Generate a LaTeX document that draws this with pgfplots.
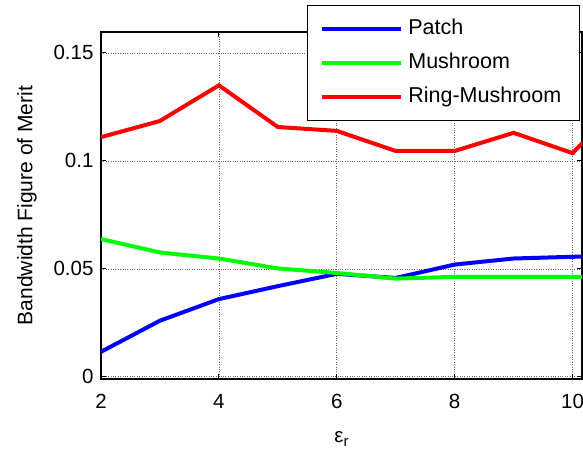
\documentclass[border=0pt]{standalone}
\usepackage{fontspec}
\setmainfont{Liberation Sans}
\usepackage{pgfplots}
\pgfplotsset{compat=1.18}

\definecolor{mblue}{RGB}{0,0,255}
\definecolor{mgreen}{RGB}{0,255,0}
\definecolor{mred}{RGB}{255,0,0}

\begin{document}
\begin{tikzpicture}
\begin{axis}[
  scale only axis,
  width=481bp, height=347bp,
  xmin=2, xmax=10.16,
  ymin=-0.001, ymax=0.1597,
  xtick={2,4,6,8,10}, xticklabels={2,4,6,8,10},
  ytick={0,0.05,0.1,0.15}, yticklabels={0,0.05,0.1,0.15},
  tick align=inside,
  major tick length=5bp,
  tick style={black, line width=1bp},
  axis line style={black, line width=1.3bp},
  grid=major,
  major grid style={dotted, black!60, line width=0.7bp},
  ticklabel style={font=\fontsize{20.5bp}{24bp}\selectfont},
  xticklabel style={yshift=-12bp},
  yticklabel style={xshift=-4bp},
  xlabel={ε\raisebox{-4bp}{\fontsize{15bp}{16bp}\selectfont r}},
  xlabel style={font=\fontsize{20.5bp}{24bp}\selectfont, yshift=-16bp},
  ylabel={Bandwidth Figure of Merit},
  ylabel style={font=\fontsize{21bp}{24bp}\selectfont, yshift=10bp},
  legend cell align=left,
  legend image code/.code={\draw[#1, line width=4bp] (0bp,0bp) -- (79bp,0bp);},
  legend style={
    at={(0.428,1.078)}, anchor=north west,
    draw=black, line width=1bp, fill=white,
    inner xsep=13bp, inner ysep=6bp,
    font=\fontsize{21.5bp}{26bp}\selectfont,
    row sep=0bp,
    nodes={inner xsep=5bp, inner ysep=6.7bp, text height=16bp, text depth=5bp},
  },
  every axis plot/.append style={line width=4bp},
]
\addplot[mblue] coordinates {
  (2,0.0116) (3,0.0260) (4,0.0360) (5,0.0420) (6,0.0477)
  (7,0.0458) (8,0.0520) (9,0.0548) (10,0.0556) (11,0.0560)
};
\addlegendentry{Patch}
\addplot[mgreen] coordinates {
  (2,0.0638) (3,0.0576) (4,0.0548) (5,0.0502) (6,0.0481)
  (7,0.0455) (8,0.0463) (9,0.0463) (10,0.0463) (11,0.0463)
};
\addlegendentry{Mushroom}
\addplot[mred] coordinates {
  (2,0.1110) (3,0.1185) (4,0.1350) (5,0.1157) (6,0.1139)
  (7,0.1046) (8,0.1046) (9,0.1130) (10,0.1036) (11,0.1320)
};
\addlegendentry{Ring-Mushroom}
\end{axis}
\pgfresetboundingbox
\path[use as bounding box] ([xshift=-101bp, yshift=-71bp]current axis.south west) rectangle ++(583bp,450bp);
\end{tikzpicture}
\end{document}
